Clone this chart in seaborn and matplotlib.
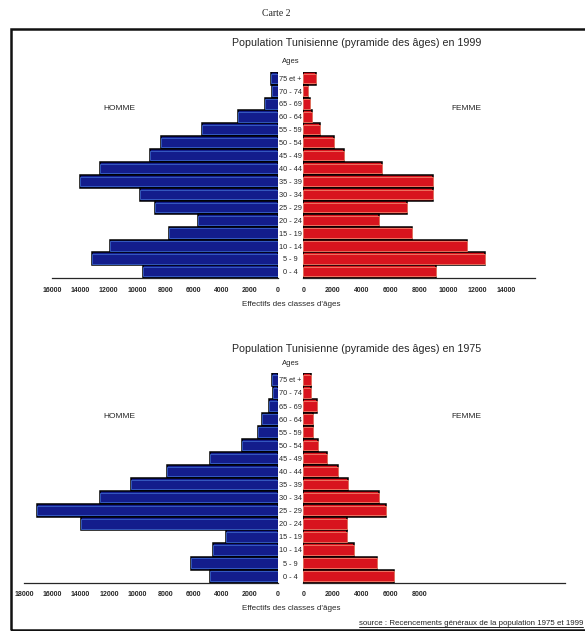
import matplotlib
matplotlib.use("Agg")
import matplotlib.pyplot as plt
from matplotlib.patches import Rectangle
from matplotlib.lines import Line2D
import seaborn as sns

# age groups, top of pyramid first
ages = ["75 et +", "70 - 74", "65 - 69", "60 - 64", "55 - 59", "50 - 54",
        "45 - 49", "40 - 44", "35 - 39", "30 - 34", "25 - 29", "20 - 24",
        "15 - 19", "10 - 14", "5 - 9", "0 - 4"]

homme_1999 = [500, 420, 950, 2860, 5400, 8300, 9100, 12600, 14000, 9800,
              8700, 5700, 7700, 11900, 13200, 9600]
femme_1999 = [900, 330, 450, 600, 1150, 2100, 2800, 5400, 8950, 8950,
              7150, 5200, 7500, 11300, 12550, 9150]
homme_1975 = [440, 380, 620, 1140, 1440, 2570, 4800, 7880, 10400, 12600,
              17100, 14000, 3700, 4600, 6200, 4800]
femme_1975 = [530, 530, 960, 640, 670, 1030, 1600, 2400, 3080, 5200,
              5700, 3000, 3000, 3460, 5050, 6250]

W, H = 585, 631
BLUE, BLUE_LT = "#131d8c", "#3a63c8"
RED, RED_LT = "#d8141e", "#f2806a"

sns.set_style("white")
plt.rcParams["font.family"] = ["Liberation Sans", "DejaVu Sans"]

fig = plt.figure(figsize=(W / 100, H / 100), dpi=100)


def box(x0, x1, ytop, ybot):
    return [x0 / W, 1 - ybot / H, (x1 - x0) / W, (ybot - ytop) / H]


def ftext(x, y, s, **kw):
    return fig.text(x / W, 1 - y / H, s, **kw)


def draw_side(ax, vals, color, light, xmax, labelled):
    sns.barplot(x=vals, y=ages, order=ages, orient="h", color=color,
                saturation=1, width=1.0, edgecolor="black", linewidth=1.1,
                errorbar=None, ax=ax)
    sns.barplot(x=vals, y=ages, order=ages, orient="h", color=color,
                saturation=1, width=0.72, edgecolor=light, linewidth=0.6,
                errorbar=None, ax=ax)
    ticks = list(range(0, xmax + 1, 2000))
    ax.set_xticks(ticks)
    ax.set_xticklabels([str(t) if t <= labelled else "" for t in ticks],
                       fontsize=5, fontweight="bold")
    ax.set_xlim(0, xmax)
    ax.set_xlabel("")
    ax.set_ylabel("")
    for s in ["top", "left", "right"]:
        ax.spines[s].set_visible(False)
    ax.spines["bottom"].set_linewidth(0.9)
    ax.tick_params(axis="x", direction="out", length=3, width=0.8, pad=3,
                   color="black")


def pyramid(male, female, ytop, ybot, xm0, mmax, xf1, fmax, flab,
            title, title_y):
    ax_m = fig.add_axes(box(xm0, 278, ytop, ybot))
    ax_f = fig.add_axes(box(303.4, xf1, ytop, ybot))
    draw_side(ax_m, male, BLUE, BLUE_LT, mmax, mmax)
    ax_m.invert_xaxis()
    ax_m.set_yticks([])
    draw_side(ax_f, female, RED, RED_LT, fmax, flab)
    ax_f.tick_params(axis="y", length=0, pad=9.2, labelsize=5.3)
    for lab in ax_f.get_yticklabels():
        lab.set_horizontalalignment("center")
    ftext(357, title_y, title, fontsize=7.7, ha="center", va="center")
    ftext(291, ytop - 10, "Ages", fontsize=5.5, ha="center", va="center")
    ftext(291, ybot + 26, "Effectifs des classes d'âges", fontsize=5.8,
          ha="center", va="center")


pyramid(homme_1999, femme_1999, 71.7, 278.3, 52.2, 16000, 535.4, 16000,
        14000, "Population Tunisienne (pyramide des âges) en 1999", 43)
pyramid(homme_1975, femme_1975, 373.3, 582.7, 24.3, 18000, 564.8, 18000,
        8000, "Population Tunisienne (pyramide des âges) en 1975", 349)

for y in (108, 416):
    ftext(119, y, "HOMME", fontsize=6, ha="center", va="center")
    ftext(466, y, "FEMME", fontsize=6, ha="center", va="center")

ftext(276, 13, "Carte 2", fontsize=7, ha="center", va="center",
      family=["Liberation Serif", "DejaVu Serif"])

# outer frame, cut by the right edge like the scan
fig.add_artist(Rectangle((10.5 / W, 1 - 630 / H), 1.1, (630 - 28.5) / H,
                         transform=fig.transFigure, fill=False,
                         edgecolor="#111111", linewidth=1.8))

src = ftext(583, 623.5, "source : Recencements généraux de la population 1975 et 1999",
            fontsize=5.7, ha="right", va="center")
# underline the source, matched to the text width
fig.canvas.draw()
bb = src.get_window_extent().transformed(fig.transFigure.inverted())
fig.add_artist(Line2D([bb.x0, bb.x1], [1 - 627.3 / H, 1 - 627.3 / H],
                      transform=fig.transFigure, color="black", lw=0.6))

fig.savefig("out.png", dpi=100)
